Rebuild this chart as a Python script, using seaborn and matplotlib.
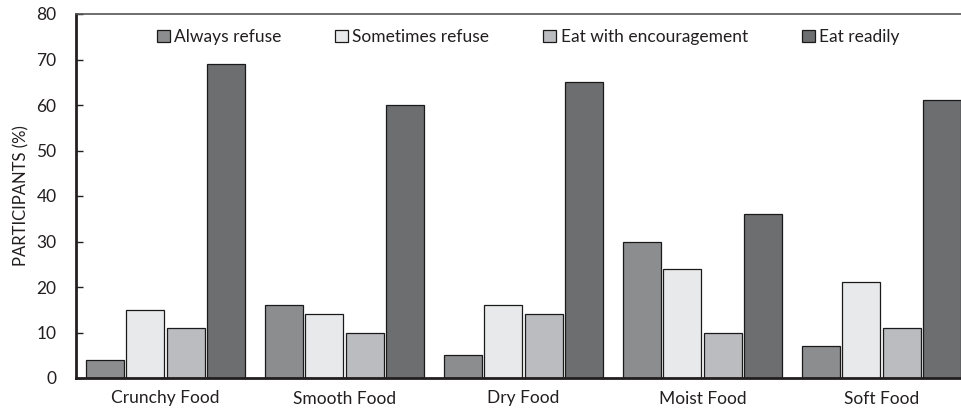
import pandas as pd
import numpy as np
import matplotlib
matplotlib.use("Agg")
import matplotlib.pyplot as plt
import seaborn as sns
from matplotlib.ticker import FixedLocator

# Data
foods = ["Crunchy Food", "Smooth Food", "Dry Food", "Moist Food", "Soft Food"]
responses = ["Always refuse", "Sometimes refuse", "Eat with encouragement", "Eat readily"]
always_refuse = [4, 16, 5, 30, 7]
sometimes_refuse = [15, 14, 16, 24, 21]
eat_with_encouragement = [11, 10, 14, 10, 11]
eat_readily = [69, 60, 65, 36, 61]

colors = ["#8c8d8f", "#e8e9ea", "#bbbcbf", "#6d6e70"]


def main():
    df = pd.DataFrame({
        "Food": foods * 4,
        "Response": np.repeat(responses, len(foods)),
        "Percent": always_refuse + sometimes_refuse + eat_with_encouragement + eat_readily,
    })

    sns.set_style("white")
    plt.rcParams["font.family"] = ["Lato", "DejaVu Sans"]

    fig = plt.figure(figsize=(9.62, 4.12), dpi=100)
    ax = fig.add_axes([76 / 962, 34 / 412, 895 / 962, 364 / 412])

    sns.barplot(data=df, x="Food", y="Percent", hue="Response", order=foods,
                hue_order=responses, palette=colors, width=0.9, gap=0.05,
                edgecolor="#1a1a1a", linewidth=0.9, saturation=1, ax=ax,
                legend=True)

    ax.set_xlim(-0.5, 4.5)
    ax.set_ylim(0, 80)
    ax.set_yticks(range(0, 81, 10))
    ax.set_xlabel("")
    ax.set_ylabel("PARTICIPANTS (%)", fontsize=12, color="#231f20", labelpad=5)

    # group separators as small upward ticks on the x axis
    ax.tick_params(axis="x", which="major", length=0, labelsize=12.5, pad=9, colors="#231f20")
    ax.xaxis.set_minor_locator(FixedLocator([0.5, 1.5, 2.5, 3.5]))
    ax.tick_params(axis="x", which="minor", direction="in", length=6, width=1, color="#231f20")
    ax.tick_params(axis="y", direction="in", length=5, width=1, labelsize=12.5,
                   pad=14, colors="#231f20", left=True)

    for side in ["left", "bottom"]:
        ax.spines[side].set_linewidth(2)
        ax.spines[side].set_color("#231f20")
    ax.spines["top"].set_linewidth(1.2)
    ax.spines["top"].set_color("#555555")
    ax.spines["right"].set_visible(False)

    leg = ax.legend(loc="center", bbox_to_anchor=(528 / 962, 1 - 37 / 412),
                    bbox_transform=fig.transFigure, ncol=4, frameon=False,
                    fontsize=12.5, handlelength=0.75, handleheight=0.75,
                    handletextpad=0.25, columnspacing=3.1)
    for t in leg.get_texts():
        t.set_color("#231f20")

    fig.savefig("out.png", dpi=100)
    plt.close(fig)


if __name__ == "__main__":
    main()
